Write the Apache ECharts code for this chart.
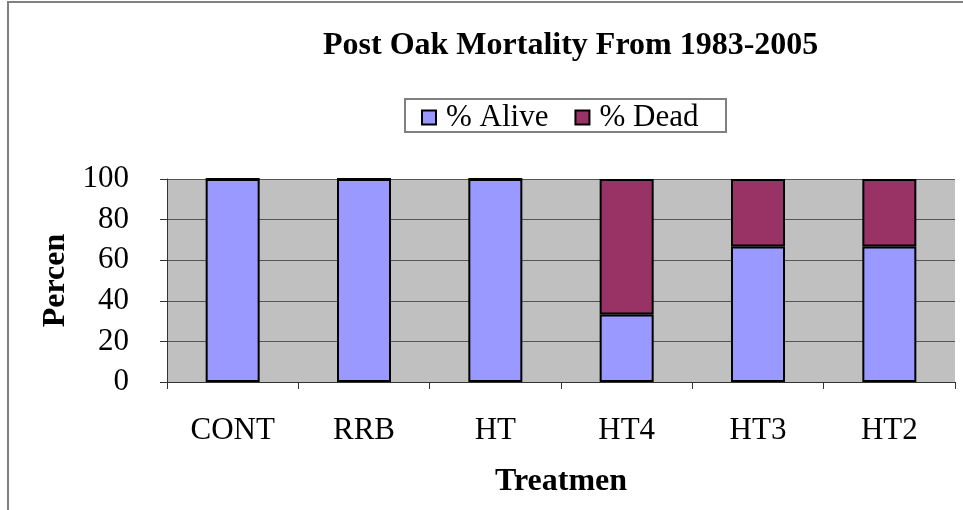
<!DOCTYPE html>
<html>
<head>
<meta charset="utf-8">
<script src="https://cdn.jsdelivr.net/npm/echarts@6/dist/echarts.min.js"></script>
<style>
  html, body { margin: 0; padding: 0; background: #fff; }
  #main { width: 963px; height: 510px; }
</style>
</head>
<body>
<div id="main"></div>
<script>
// 数据
var categories = ['CONT', 'RRB', 'HT', 'HT4', 'HT3', 'HT2'];
var alive = [100, 100, 100, 33.3, 66.7, 66.7];
var dead = [0, 0, 0, 66.7, 33.3, 33.3];
var yTicks = [0, 20, 40, 60, 80, 100];

var font = 'Liberation Serif';
var chart = echarts.init(document.getElementById('main'));

var option = {
  backgroundColor: '#ffffff',
  animation: false,
  color: ['#9999FF', '#993366'],
  title: {
    text: 'Post Oak Mortality From 1983-2005',
    left: 323,
    top: 30,
    padding: 0,
    textStyle: { fontFamily: font, fontSize: 32, fontWeight: 'bold', color: '#000' }
  },
  legend: {
    left: 421,
    top: 102,
    padding: 0,
    itemGap: 26,
    itemWidth: 14,
    itemHeight: 14,
    icon: 'rect',
    itemStyle: { borderColor: '#000', borderWidth: 2 },
    textStyle: { fontFamily: font, fontSize: 31, color: '#000', padding: [0, 0, 0, 5] }
  },
  grid: {
    left: 167,
    right: 8,
    top: 179,
    bottom: 128,
    show: true,
    backgroundColor: '#c0c0c0',
    borderWidth: 0
  },
  xAxis: {
    type: 'category',
    data: categories,
    name: 'Treatmen',
    nameLocation: 'middle',
    nameGap: 84,
    nameTextStyle: { fontFamily: font, fontSize: 32, fontWeight: 'bold', color: '#000' },
    axisLine: { lineStyle: { color: '#333', width: 1 } },
    axisTick: { show: true, length: 7, lineStyle: { color: '#333' } },
    axisLabel: { fontFamily: font, fontSize: 31, color: '#000', margin: 33 }
  },
  yAxis: {
    type: 'value',
    min: yTicks[0],
    max: yTicks[yTicks.length - 1],
    interval: 20,
    name: 'Percen',
    nameLocation: 'middle',
    nameGap: 92,
    nameTextStyle: { fontFamily: font, fontSize: 32, fontWeight: 'bold', color: '#000' },
    axisLine: { show: true, lineStyle: { color: '#333', width: 1 } },
    axisTick: { show: true, length: 7, lineStyle: { color: '#333' } },
    axisLabel: { fontFamily: font, fontSize: 31, color: '#000', margin: 38 },
    splitLine: { lineStyle: { color: '#555', width: 1 } }
  },
  series: [
    {
      name: '% Alive',
      type: 'bar',
      stack: 'total',
      barWidth: 54,
      data: alive,
      itemStyle: { borderColor: '#000', borderWidth: 2 }
    },
    {
      name: '% Dead',
      type: 'bar',
      stack: 'total',
      barWidth: 54,
      data: dead,
      itemStyle: { borderColor: '#000', borderWidth: 2 }
    }
  ],
  graphic: [
    {
      type: 'rect',
      shape: { x: 8, y: 2, width: 1200, height: 800 },
      style: { fill: 'none', stroke: '#808080', lineWidth: 2 },
      silent: true
    },
    {
      type: 'rect',
      shape: { x: 405, y: 99, width: 321, height: 33 },
      style: { fill: 'none', stroke: '#808080', lineWidth: 2 },
      silent: true
    }
  ]
};

chart.setOption(option);
</script>
</body>
</html>
